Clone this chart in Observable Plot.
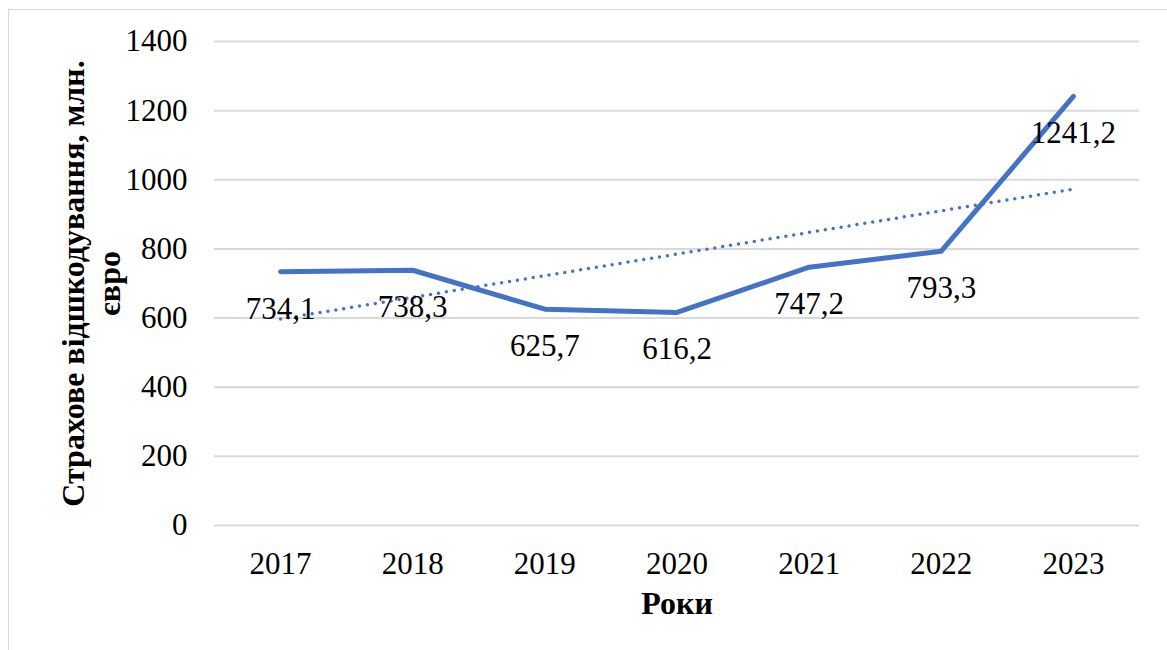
<!DOCTYPE html>
<html>
<head>
<meta charset="utf-8">
<script src="https://cdn.jsdelivr.net/npm/d3@7"></script>
<script src="https://cdn.jsdelivr.net/npm/@observablehq/plot@0.6"></script>
<style>
  html, body { margin: 0; padding: 0; background: #fff; }
  #wrap { position: relative; width: 1167px; height: 650px; overflow: hidden; }
  #frame { position: absolute; left: 8px; top: 9px; width: 1180px; height: 680px; border: 1px solid #d9d9d9; box-sizing: border-box; pointer-events: none; }
  svg { display: block; }
</style>
</head>
<body>
<div id="wrap"><div id="frame"></div></div>
<script>
const years = [2017, 2018, 2019, 2020, 2021, 2022, 2023];
const values = [734.1, 738.3, 625.7, 616.2, 747.2, 793.3, 1241.2];
const yTicks = [0, 200, 400, 600, 800, 1000, 1200, 1400];
const yTitle = "Страхове відшкодування, млн.\nєвро";
const xTitle = "Роки";

const data = years.map((year, i) => ({ year, value: values[i] }));
const fmt = v => v.toFixed(1).replace(".", ",");
const blue = "#4472C4";

const chart = Plot.plot({
  width: 1167,
  height: 650,
  marginLeft: 214,
  marginRight: 28,
  marginTop: 41,
  marginBottom: 125,
  style: { fontFamily: "'Liberation Serif', 'Times New Roman', serif", fontSize: "31px", color: "#000", background: "transparent" },
  x: { type: "linear", domain: [2016.5, 2023.5] },
  y: { domain: [0, 1400] },
  marks: [
    Plot.ruleY(yTicks, { stroke: "#d9d9d9", strokeWidth: 2 }),
    Plot.axisY({ ticks: yTicks, tickSize: 0, tickPadding: 27, fontSize: 31, label: null, tickFormat: d => String(d) }),
    Plot.axisX({ ticks: years, tickSize: 0, tickPadding: 26, fontSize: 31, label: null, tickFormat: d => String(d) }),
    Plot.linearRegressionY(data, { x: "year", y: "value", ci: 0, stroke: blue, strokeWidth: 3.5, strokeDasharray: "0 8", strokeLinecap: "round" }),
    Plot.line(data, { x: "year", y: "value", stroke: blue, strokeWidth: 5, strokeLinecap: "round", strokeLinejoin: "round" }),
    Plot.text(data, { x: "year", y: "value", text: d => fmt(d.value), dy: 37, fontSize: 31, fill: "#000" }),
    Plot.text([xTitle], { frameAnchor: "bottom", dy: 88, fontSize: 32, fontWeight: "bold", fill: "#000" }),
    Plot.text([yTitle], { frameAnchor: "left", textAnchor: "middle", dx: -124, rotate: -90, fontSize: 32, fontWeight: "bold", lineHeight: 1.12, fill: "#000" })
  ]
});
document.getElementById("wrap").prepend(chart);
</script>
</body>
</html>
